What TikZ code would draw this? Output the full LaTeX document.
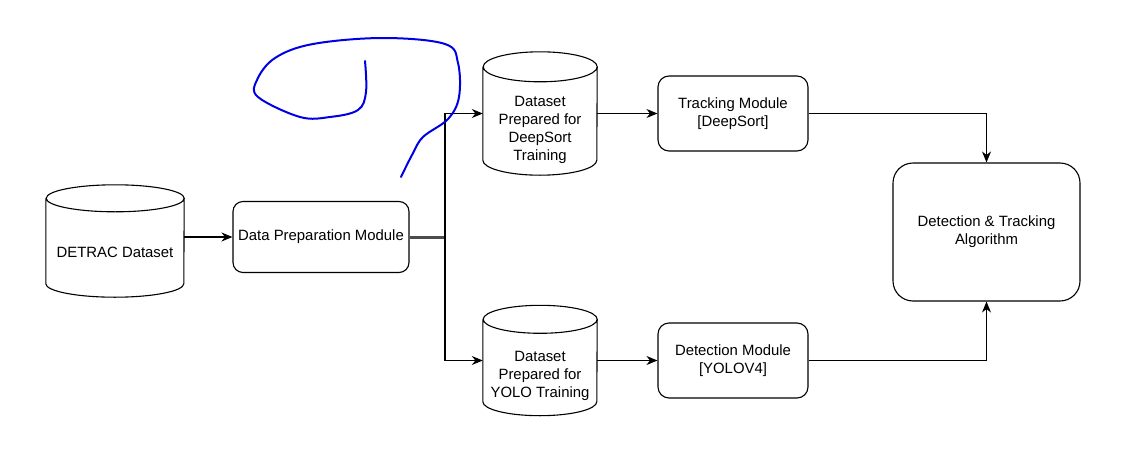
\documentclass[tikz,border=0pt]{standalone}
\usepackage{fontspec}
\setmainfont{Liberation Sans}
\usetikzlibrary{arrows.meta}

% cylinder round a named node: node, x radius, y radius
\newcommand\drawdrum[3]{%
  \draw[drumline] ([yshift=-#3pt]#1.north west) -- ([yshift=#3pt]#1.south west)
    arc[start angle=180, end angle=360, x radius=#2pt, y radius=#3pt]
    -- ([yshift=-#3pt]#1.north east)
    arc[start angle=0, end angle=360, x radius=#2pt, y radius=#3pt];}

\begin{document}
\begin{tikzpicture}[x=1pt,y=-1pt,
    font=\fontsize{14.9}{18}\selectfont,
    every node/.style ={align=center},
    block/.style ={draw, line width=1.1pt, rounded corners=11pt, inner sep=0pt},
    drum/.style ={inner sep=0pt},
    drumline/.style ={draw, fill=white, line width=1.1pt},
    flow/.style ={line width=1.1pt, -{Stealth[length=11pt,width=9pt]}},
    bus/.style ={line width=3pt, black!70},
    scribble/.style ={blue!90!black, line width=2pt, line cap=round, line join=round}]
   \useasboundingbox (0,0) rectangle (1138,458);

   \node[drum, minimum width=138, minimum height=112] (detrac) at (115,241) {};
   \drawdrum{detrac}{69}{13.5}
   \node (detractext) at ([yshift=-11pt]detrac.center) {DETRAC Dataset};

   \node[block, minimum width=176, minimum height=71, rounded corners=10pt] (prep) at (321,237) {Data Preparation Module};

   \node[drum, minimum width=114, minimum height=123] (deep) at (540,113.5) {};
   \drawdrum{deep}{57}{15}
   \node (deeptext) at ([yshift=-16pt]deep.center) {Dataset\\Prepared for\\DeepSort\\Training};

   \node[drum, minimum width=114, minimum height=110] (yolo) at (540,360.5) {};
   \drawdrum{yolo}{57}{14}
   \node (yolotext) at ([yshift=-15pt]yolo.center) {Dataset\\Prepared for\\YOLO Training};

   \node[block, minimum width=150, minimum height=75] (track) at (733,113.5) {Tracking Module\\{[DeepSort]}};
   \node[block, minimum width=150, minimum height=75] (detect) at (733,360.5) {Detection Module\\{[YOLOV4]}};

   \node[block, minimum width=187, minimum height=138, rounded corners=20pt] (algo) at (986.5,232) {Detection \& Tracking\\Algorithm};

   \coordinate (split) at (445,237);

   \draw[flow] (detrac.east |- prep.west) to (prep.west);
   \draw[bus] (prep.east) to (split);
   \draw[flow] (split) |- (deep.west);
   \draw[flow] (split) |- (yolo.west);
   \draw[flow] (deep.east) to (track.west);
   \draw[flow] (yolo.east) to (detect.west);
   \draw[flow] (track.east) -| (algo.north);
   \draw[flow] (detect.east) -| (algo.south);

   % pen marks over the chart
   \draw[scribble] plot[smooth, tension=0.6] coordinates {(365,61) (366,92) (358,110) (330,117) (300,117)
     (258,97) (257,80) (275,58) (313,44) (383,38) (445,44) (458,63) (459,97) (448,119) (423,137)
     (412,155) (401,177)};
\end{tikzpicture}
\end{document}
